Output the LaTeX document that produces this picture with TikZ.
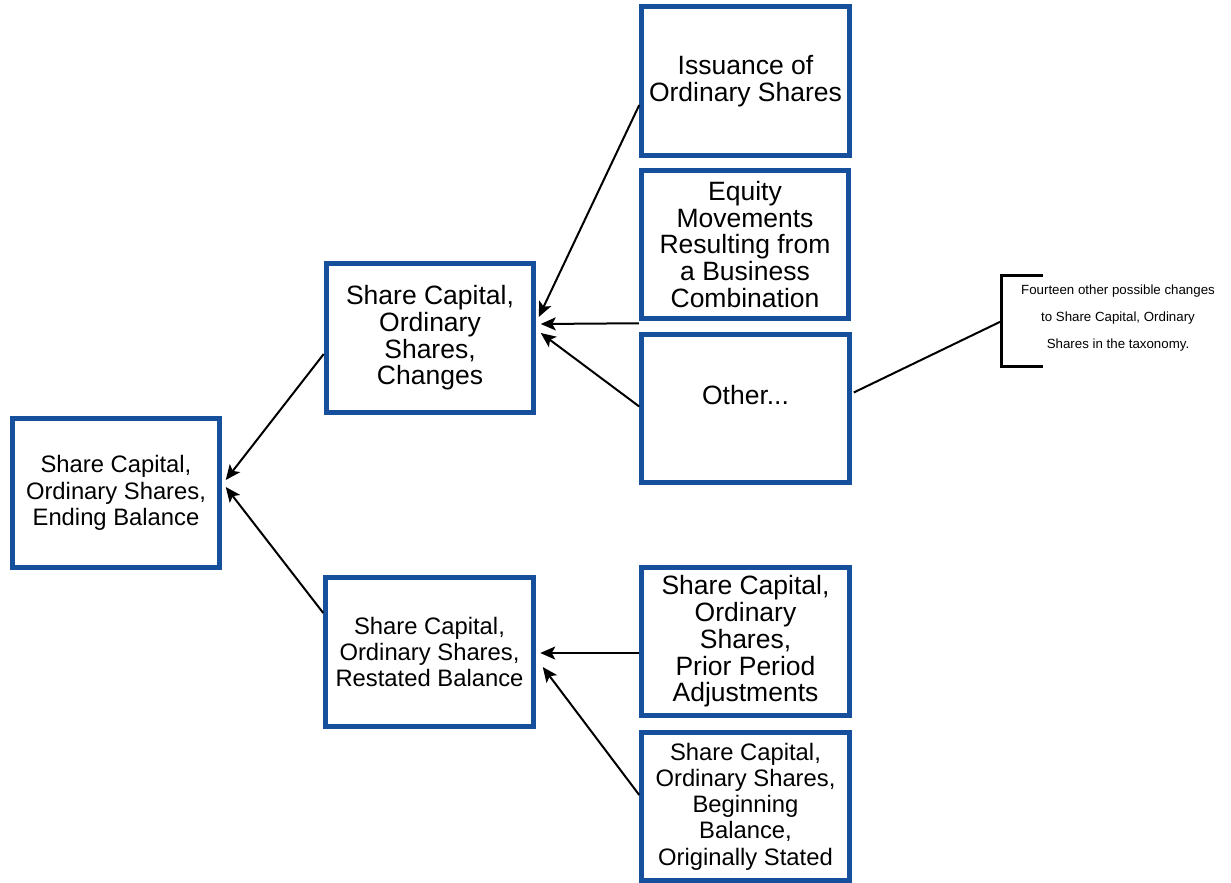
\documentclass[tikz,border=0pt]{standalone}
\usepackage{fontspec}
\setmainfont{Liberation Sans}
\usetikzlibrary{arrows.meta}
\definecolor{boxblue}{RGB}{22,80,156}
\begin{document}
\begin{tikzpicture}[x=1pt,y=-1pt,
  item/.style={draw=boxblue, line width=5pt, fill=white, rectangle,
    minimum width=207.5pt, minimum height=148.5pt, inner sep=0pt,
    align=center, font=\fontsize{26.5}{26.7}\selectfont},
  itemsmall/.style={item, font=\fontsize{23.8}{26.2}\selectfont},
  arr/.style={draw=black, line width=2pt,
    -{Stealth[length=15pt,width=13pt,inset=3.5pt]}},
  link/.style={draw=black, line width=2pt},
  frame/.style={inner sep=0pt, minimum width=232pt, minimum height=91pt},
  note/.style={align=center, inner sep=0pt,
    font=\fontsize{13.3}{26.7}\selectfont}]
\useasboundingbox (0,0) rectangle (1231,883);

% boxes
\node[itemsmall] (ending)   at (116,493)   {Share Capital,\\Ordinary Shares,\\Ending Balance};
\node[item]      (changes)  at (430,338)   {Share Capital,\\Ordinary\\Shares,\\Changes};
\node[itemsmall] (restated) at (429.5,652) {Share Capital,\\Ordinary Shares,\\Restated Balance};
\node[item]      (issuance) at (745.5,81)  {Issuance of\\Ordinary Shares};
\node[item]      (equity)   at (745,244.5) {Equity\\Movements\\Resulting from\\a Business\\Combination};
\node[item]      (other)    at (745.5,408.5) {\raisebox{27pt}{Other...}};
\node[item]      (prior)    at (745.5,641.5) {Share Capital,\\Ordinary\\Shares,\\Prior Period\\Adjustments};
\node[itemsmall] (begin)    at (745.5,806.5) {Share Capital,\\Ordinary Shares,\\Beginning\\Balance,\\Originally Stated};

% annotation with bracket
\node[frame] (bracket) at (1118,321) {};
\node[note] (comment) at (1118,318) {Fourteen other possible changes\\to Share Capital, Ordinary\\Shares in the taxonomy.};
\draw[line width=3pt, line join=miter]
  ([xshift=41pt]bracket.north west) -- (bracket.north west)
  -- (bracket.south west) -- ([xshift=41pt]bracket.south west);

% connectors
\draw[arr] ([shift={(0,24)}]issuance.west) -- ([shift={(2.5,-21)}]changes.east);
\draw[arr] ([shift={(0,2)}]equity.south west) -- ([shift={(4.5,-14)}]changes.east);
\draw[arr] ([shift={(0,-2)}]other.west) -- ([shift={(4.5,-5)}]changes.east);
\draw[arr] ([shift={(0,16)}]changes.west) -- ([shift={(3.5,-13)}]ending.east);
\draw[arr] ([shift={(0,-39)}]restated.west) -- ([shift={(3.5,-6)}]ending.east);
\draw[arr] ([shift={(0,11.5)}]prior.west) -- ([shift={(4.5,1)}]restated.east);
\draw[arr] ([shift={(0,-11.5)}]begin.west) -- ([shift={(7,15)}]restated.east);
\draw[link] ([shift={(2,-16)}]other.east) -- (bracket.west);
\end{tikzpicture}
\end{document}
